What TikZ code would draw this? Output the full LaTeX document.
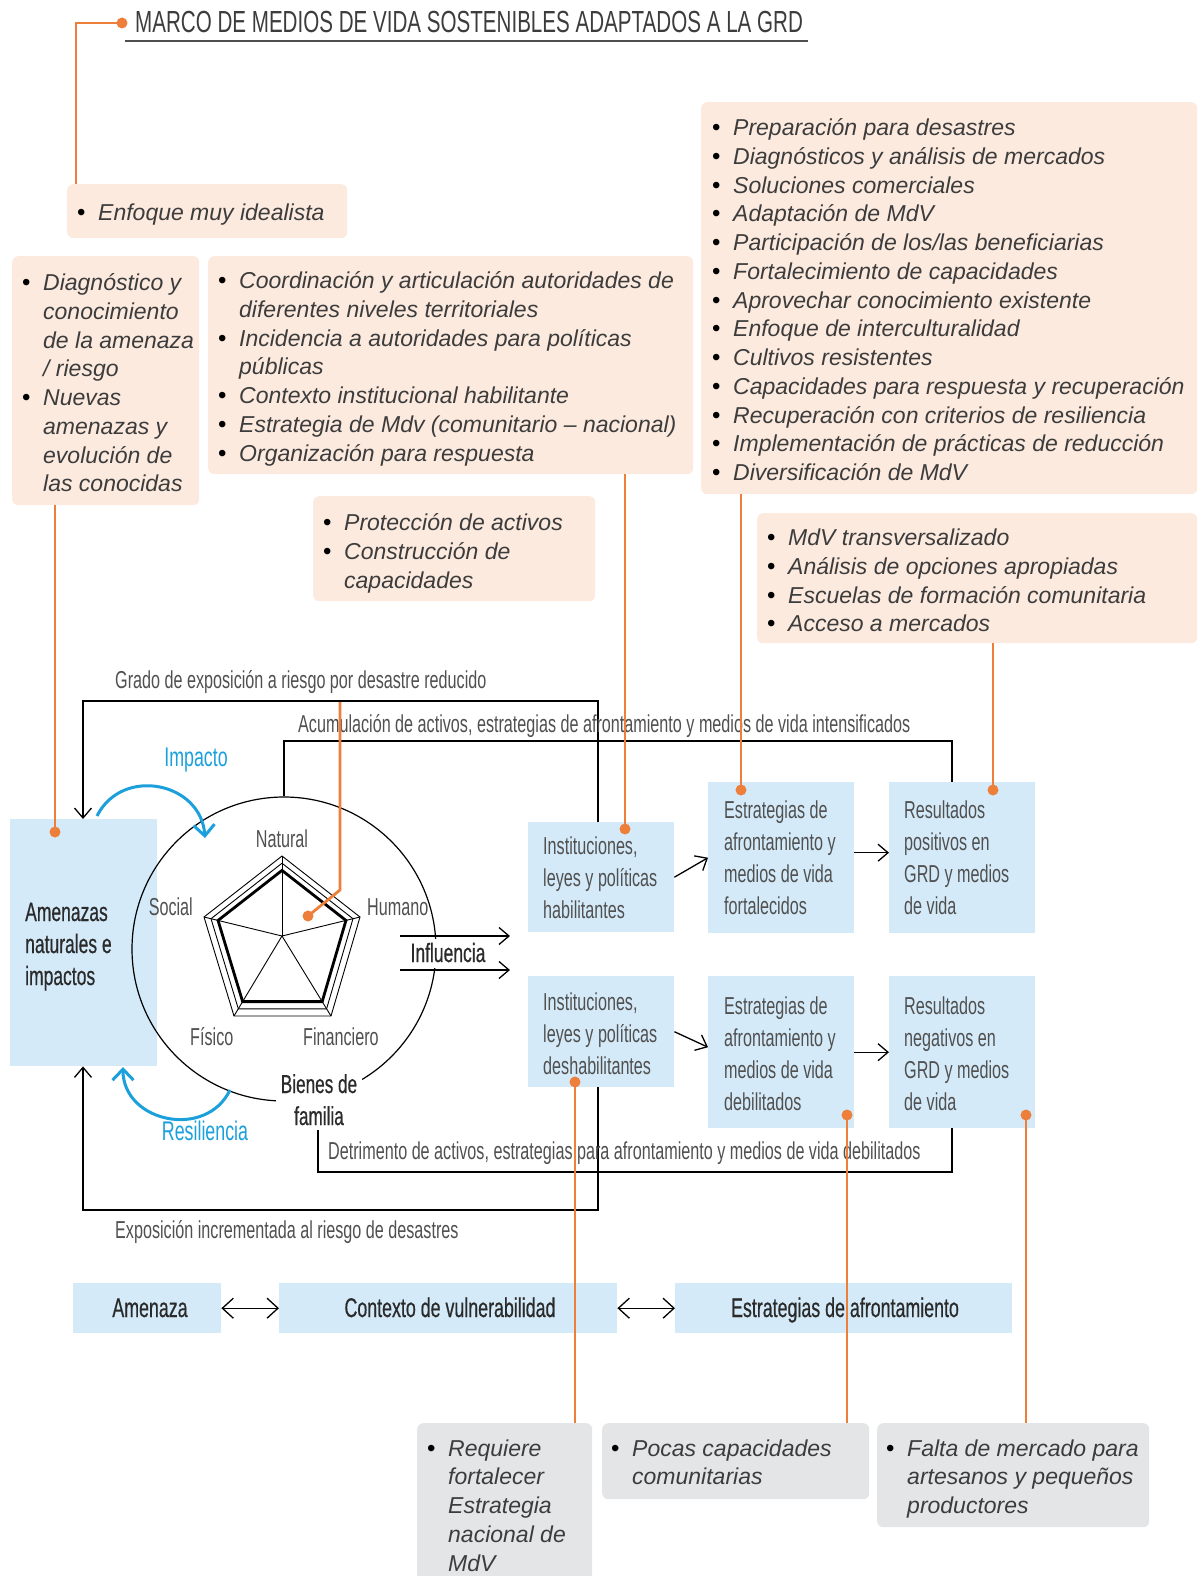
\documentclass[tikz,border=0pt]{standalone}
\usepackage{fontspec}
\setmainfont{Liberation Sans}
\newfontfamily\cnd[FakeStretch=0.66]{Liberation Sans}
\newfontfamily\cndb[FakeStretch=0.66,FakeBold=0.5]{Liberation Sans}
\newfontfamily\cndt[FakeStretch=0.675]{Liberation Sans}
\usetikzlibrary{arrows.meta}
\definecolor{peachc}{HTML}{FCEADF}
\definecolor{grayc}{HTML}{E4E5E6}
\definecolor{bluec}{HTML}{D4EAF8}
\definecolor{orangec}{HTML}{EE7F3B}
\definecolor{cyanc}{HTML}{1BA0DB}
\definecolor{txt}{HTML}{3C3C3C}
\definecolor{ltxt}{HTML}{505050}
\definecolor{dtxt}{HTML}{2A2A2A}
\newcommand\bu{\makebox[21pt][l]{\fontsize{24}{24}\selectfont\upshape\color{black}\textbullet}}
\newcommand\ind{\hspace*{21pt}}
\newcommand\itlines[4]{\foreach \lineT [count=\lineI from 0] in {#4} {\node[itx, name=#1-\lineI] at (#2,{#3+\lineI*28.75}) {\lineT};}}
\newcommand\cdlines[5]{\foreach \lineT [count=\lineI from 0] in {#5} {\node[#4, name=#1-\lineI] at (#2,{#3+\lineI*32}) {\lineT};}}
\begin{document}
\begin{tikzpicture}[x=1pt,y=-1pt,
  peach/.style={fill=peachc, rounded corners=6pt, anchor=north west, inner sep=0pt},
  grayb/.style={fill=grayc, rounded corners=6pt, anchor=north west, inner sep=0pt},
  blueb/.style={fill=bluec, anchor=north west, inner sep=0pt},
  itx/.style={anchor=base west, inner sep=0pt, font=\fontsize{23}{28.75}\selectfont\itshape, text=txt},
  cdx/.style={anchor=base west, inner sep=0pt, font=\cnd\fontsize{24.5}{32}\selectfont, text=ltxt},
  cdd/.style={anchor=base west, inner sep=0pt, font=\cndb\fontsize{26.5}{32}\selectfont, text=dtxt},
  ol/.style={draw=orangec, line width=2.8pt},
  odot/.style={circle, fill=orangec, inner sep=0pt, minimum size=11pt},
  bk/.style={draw=black, line width=1.3pt},
  barb/.style={-{Straight Barb[length=10pt,width=17pt]}},
  dbarb/.style={{Straight Barb[length=11pt,width=20pt]}-{Straight Barb[length=11pt,width=20pt]}},
  cy/.style={draw=cyanc, line width=3pt, -{Straight Barb[length=11pt,width=21pt]}},
]
\path[use as bounding box] (0,0) rectangle (1198,1576);
\clip (0,0) rectangle (1198,1576);

% ---------- title ----------
\node[anchor=base west, inner sep=0pt, font=\cndt\fontsize{30.5}{32}\selectfont, text=txt] (title) at (135,33) {MARCO DE MEDIOS DE VIDA SOSTENIBLES ADAPTADOS A LA GRD};
\coordinate (ulL) at (125,41); \coordinate (ulR) at (808,41);
\draw[draw=ltxt, line width=1.6pt] (ulL) -- (ulR);

% ---------- peach boxes ----------
\node[peach, minimum width=280pt, minimum height=54pt] (enf) at (67,184) {};
\node[peach, minimum width=187pt, minimum height=249pt] (bl) at (12,256) {};
\node[peach, minimum width=485pt, minimum height=218pt] (bm) at (208,256) {};
\node[peach, minimum width=496pt, minimum height=392pt] (br) at (701,102) {};
\node[peach, minimum width=282pt, minimum height=105pt] (bp) at (313,496) {};
\node[peach, minimum width=440pt, minimum height=130pt] (bmv) at (757,513) {};
% ---------- gray boxes ----------
\node[grayb, minimum width=175pt, minimum height=170pt] (brq) at (417,1423) {};
\node[grayb, minimum width=267pt, minimum height=76pt] (bpc) at (602,1423) {};
\node[grayb, minimum width=272pt, minimum height=104pt] (bft) at (877,1423) {};

% ---------- italic texts ----------
\itlines{tenf}{77}{220}{{\bu Enfoque muy idealista}}
\itlines{tbl}{22}{290.5}{{\bu Diagnóstico y},{\ind conocimiento},{\ind de la amenaza},{\ind / riesgo},{\bu Nuevas},{\ind amenazas y},{\ind evolución de},{\ind las conocidas}}
\itlines{tbm}{218}{288.5}{{\bu Coordinación y articulación autoridades de},{\ind diferentes niveles territoriales},{\bu Incidencia a autoridades para políticas},{\ind públicas},{\bu Contexto institucional habilitante},{\bu Estrategia de Mdv (comunitario – nacional)},{\bu Organización para respuesta}}
\itlines{tbr}{712}{135.6}{{\bu Preparación para desastres},{\bu Diagnósticos y análisis de mercados},{\bu Soluciones comerciales},{\bu Adaptación de MdV},{\bu Participación de los/las beneficiarias},{\bu Fortalecimiento de capacidades},{\bu Aprovechar conocimiento existente},{\bu Enfoque de interculturalidad},{\bu Cultivos resistentes},{\bu Capacidades para respuesta y recuperación},{\bu Recuperación con criterios de resiliencia},{\bu Implementación de prácticas de reducción},{\bu Diversificación de MdV}}
\itlines{tbp}{323}{530.6}{{\bu Protección de activos},{\bu Construcción de},{\ind capacidades}}
\itlines{tbmv}{767}{545.7}{{\bu MdV transversalizado},{\bu Análisis de opciones apropiadas},{\bu Escuelas de formación comunitaria},{\bu Acceso a mercados}}
\itlines{tbrq}{427}{1456}{{\bu Requiere},{\ind fortalecer},{\ind Estrategia},{\ind nacional de},{\ind MdV}}
\itlines{tbpc}{611}{1456}{{\bu Pocas capacidades},{\ind comunitarias}}
\itlines{tbft}{886}{1456}{{\bu Falta de mercado para},{\ind artesanos y pequeños},{\ind productores}}

% ---------- blue boxes ----------
\node[blueb, minimum width=147pt, minimum height=247pt] (am) at (10,819) {};
\node[blueb, minimum width=146pt, minimum height=110pt] (ih) at (528,822) {};
\node[blueb, minimum width=146pt, minimum height=151pt] (ef) at (708,782) {};
\node[blueb, minimum width=146pt, minimum height=151pt] (rp) at (889,782) {};
\node[blueb, minimum width=146pt, minimum height=111pt] (id) at (528,976) {};
\node[blueb, minimum width=146pt, minimum height=152pt] (ed) at (708,976) {};
\node[blueb, minimum width=146pt, minimum height=152pt] (rn) at (889,976) {};
\node[blueb, minimum width=148pt, minimum height=50pt] (amz) at (73,1283) {};
\node[blueb, minimum width=338pt, minimum height=50pt] (cv) at (279,1283) {};
\node[blueb, minimum width=337pt, minimum height=50pt] (ea) at (675,1283) {};

\cdlines{tam}{25}{921}{cdd}{{Amenazas},{naturales e},{impactos}}
\cdlines{tih}{543}{854}{cdx}{{Instituciones,},{leyes y políticas},{habilitantes}}
\cdlines{tef}{724}{818}{cdx}{{Estrategias de},{afrontamiento y},{medios de vida},{fortalecidos}}
\cdlines{trp}{904}{818}{cdx}{{Resultados},{positivos en},{GRD y medios},{de vida}}
\cdlines{tid}{543}{1010}{cdx}{{Instituciones,},{leyes y políticas},{deshabilitantes}}
\cdlines{ted}{724}{1014}{cdx}{{Estrategias de},{afrontamiento y},{medios de vida},{debilitados}}
\cdlines{trn}{904}{1014}{cdx}{{Resultados},{negativos en},{GRD y medios},{de vida}}

\node[cdd, anchor=base, font=\cndb\fontsize{27}{32}\selectfont] (tamz) at (150,1317) {Amenaza};
\node[cdd, anchor=base, font=\cndb\fontsize{27}{32}\selectfont] (tcv) at (450,1317) {Contexto de vulnerabilidad};
\node[cdd, anchor=base, font=\cndb\fontsize{27}{32}\selectfont] (tea) at (845,1317) {Estrategias de afrontamiento};

% ---------- household circle & pentagon ----------
\node[circle, draw, line width=1.2pt, minimum size=304pt, inner sep=0pt] (hh) at (284,949) {};

% ---------- black connectors ----------
\coordinate (gx) at (598,701); \coordinate (ax) at (83,701);
\draw[bk, barb] (gx |- ih.north) -- (gx) -- (ax) -- (ax |- am.north);
\node[cdx] (lgrado) at (115,688) {Grado de exposición a riesgo por desastre reducido};

\coordinate (acR) at (952,741);
\draw[bk] (hh.north) |- (acR) -- (acR |- rp.north);
\node[cdx] (lacum) at (298,732) {Acumulación de activos, estrategias de afrontamiento y medios de vida intensificados};

\coordinate (exR) at (598,1210); \coordinate (exL) at (83,1210);
\draw[bk, barb] (exR |- id.south) -- (exR) -- (exL) -- (exL |- am.south);
\node[cdx] (lexp) at (115,1238) {Exposición incrementada al riesgo de desastres};

\coordinate (dtL) at (318,1172); \coordinate (dtR) at (952,1172);
\node[cdx] (ldet) at (328,1159) {Detrimento de activos, estrategias para afrontamiento y medios de vida debilitados};

\node[fill=white, minimum width=88pt, minimum height=29pt, inner sep=0pt] (infbg) at (448,953) {};
\node[cdd, anchor=base] (linf) at (448,962) {Influencia};
\coordinate (i1s) at (400,936); \coordinate (i1e) at (510,936);
\coordinate (i2s) at (400,970); \coordinate (i2e) at (510,970);
\draw[bk, barb] (i1s) -- (i1e);
\draw[bk, barb] (i2s) -- (i2e);

\draw[bk, barb] (ih.east) -- (ef.west);
\draw[bk, barb] ([yshift=5pt]ef.east) -- ([yshift=5pt]rp.west);
\draw[bk, barb] (id.east) -- ([yshift=5pt]ed.west);
\draw[bk, barb] (ed.east) -- (rn.west);

\draw[bk, dbarb] (amz.east) -- (cv.west);
\draw[bk, dbarb] (cv.east) -- (ea.west);

\begin{scope}[shift={(282,936)}]
  \coordinate (pc) at (0,0);
  \coordinate (pT) at (0,-80); \coordinate (pR) at (78,-19);
  \coordinate (pBR) at (49,80); \coordinate (pBL) at (-48,80); \coordinate (pL) at (-78,-19);
  \foreach \v in {pT,pR,pBR,pBL,pL} \draw[line width=0.9pt] (pc) -- (\v);
  \draw[line width=0.9pt] (pT) -- (pR) -- (pBR) -- (pBL) -- (pL) -- cycle;
  \draw[line width=0.9pt, scale=0.91] (0,-80) -- (78,-19) -- (49,80) -- (-48,80) -- (-78,-19) -- cycle;
  \draw[line width=2.8pt, scale=0.82] (0,-80) -- (78,-19) -- (49,80) -- (-48,80) -- (-78,-19) -- cycle;
\end{scope}
\node[cdx, anchor=base] (lnat) at (282,847) {Natural};
\node[cdx] (lhum) at (367,915) {Humano};
\node[cdx, anchor=base east] (lsoc) at (193,915) {Social};
\node[cdx] (lfis) at (190,1045) {Físico};
\node[cdx] (lfin) at (303,1045) {Financiero};

\node[fill=white, minimum width=86pt, minimum height=62pt, inner sep=0pt] (bienes) at (319,1099) {};
\node[cdd, anchor=base, font=\cndb\fontsize{26}{32}\selectfont] (lbi1) at (319,1093) {Bienes de};
\node[cdd, anchor=base, font=\cndb\fontsize{26}{32}\selectfont] (lbi2) at (319,1125) {familia};
\draw[bk] (dtL |- bienes.south) -- (dtL) -- (dtR) -- (dtR |- rn.south);

% ---------- impact / resilience arcs ----------
\coordinate (imS) at (97,816); \coordinate (imE) at (205,838);
\draw[cy] (imS) .. controls (122,766) and (201,782) .. (imE);
\coordinate (reS) at (230,1090); \coordinate (reE) at (123,1067);
\draw[cy] (reS) .. controls (206,1140) and (123,1122) .. (reE);
\node[anchor=base, inner sep=0pt, font=\cnd\fontsize{27}{32}\selectfont, text=cyanc] (limp) at (196,766) {Impacto};
\node[anchor=base, inner sep=0pt, font=\cnd\fontsize{27}{32}\selectfont, text=cyanc] (lres) at (205,1140) {Resiliencia};

% ---------- orange leaders ----------
\node[odot] (d1) at (122,23) {};
\node[odot] (d2) at (55,832) {};
\node[odot] (d3) at (625,829) {};
\node[odot] (d4) at (741,790) {};
\node[odot] (d5) at (993,790) {};
\node[odot] (d6) at (308,916) {};
\node[odot] (d7) at (575,1082) {};
\node[odot] (d8) at (847,1115) {};
\node[odot] (d9) at (1026,1115) {};
\coordinate (t1) at (76,23);
\draw[ol] (d1.center) -- (t1) -- (t1 |- enf.north);
\draw[ol] (d2.center) -- (d2 |- bl.south);
\draw[ol] (d3.center) -- (d3 |- bm.south);
\draw[ol] (d4.center) -- (d4 |- br.south);
\draw[ol] (d5.center) -- (d5 |- bmv.south);
\coordinate (o6a) at (340,890); \coordinate (o6b) at (340,702);
\draw[ol] (d6.center) -- (o6a) -- (o6b);
\draw[ol] (d7.center) -- (d7 |- brq.north);
\draw[ol] (d8.center) -- (d8 |- bpc.north);
\draw[ol] (d9.center) -- (d9 |- bft.north);
\end{tikzpicture}
\end{document}
